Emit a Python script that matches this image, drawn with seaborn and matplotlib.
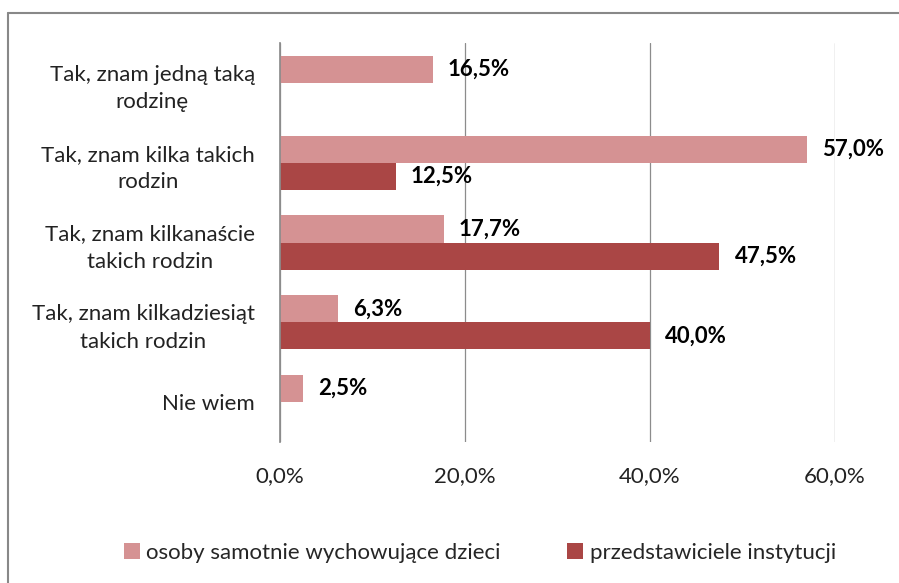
import matplotlib
matplotlib.use('Agg')
import matplotlib.pyplot as plt
from matplotlib.lines import Line2D
from matplotlib.ticker import FuncFormatter
import pandas as pd
import seaborn as sns

categories = [
    'Tak, znam jedną taką\nrodzinę',
    'Tak, znam kilka takich\nrodzin',
    'Tak, znam kilkanaście\ntakich rodzin',
    'Tak, znam kilkadziesiąt\ntakich rodzin',
    'Nie wiem',
]
series_names = ['osoby samotnie wychowujące dzieci', 'przedstawiciele instytucji']
osoby = [16.5, 57.0, 17.7, 6.3, 2.5]
instytucje = [None, 12.5, 47.5, 40.0, None]
colors = ['#D59293', '#AA4645']
x_ticks = [0, 20, 40, 60]

sns.set_theme(style='white')
plt.rcParams['font.family'] = ['Lato', 'DejaVu Sans']
plt.rcParams['font.size'] = 16


def pct(v, pos=None):
    return f'{v:.1f}%'.replace('.', ',')


def main():
    rows = []
    for cat, a, b in zip(categories, osoby, instytucje):
        if a is not None:
            rows.append((cat, series_names[0], a))
        if b is not None:
            rows.append((cat, series_names[1], b))
    df = pd.DataFrame(rows, columns=['kat', 'grupa', 'wartosc'])

    fig = plt.figure(figsize=(8.99, 5.83), dpi=100)
    ax = fig.add_axes([280 / 899, 1 - 442 / 583, 555 / 899, 399 / 583])
    sns.barplot(data=df, y='kat', x='wartosc', hue='grupa', order=categories,
                hue_order=series_names, palette=colors, width=0.68,
                orient='h', saturation=1, linewidth=0, ax=ax)

    for cont in ax.containers:
        vals = cont.datavalues
        ax.bar_label(cont, labels=[pct(v) for v in vals], padding=11,
                     fontweight='bold', fontsize=16, color='black')

    ax.set_xlim(0, 60)
    ax.set_xticks(x_ticks)
    ax.xaxis.set_major_formatter(FuncFormatter(pct))
    ax.grid(which='major', axis='x', color='#8c8c8c', linewidth=0.9)
    ax.set_axisbelow(True)
    for s in ['top', 'right', 'bottom']:
        ax.spines[s].set_visible(False)
    ax.spines['left'].set_color('#8c8c8c')
    ax.tick_params(axis='x', length=0, pad=17, labelsize=16, colors='#222222')
    ax.tick_params(axis='y', length=0, pad=18, labelsize=16, colors='#222222')
    for lbl in ax.get_yticklabels():
        lbl.set_multialignment('center')
        lbl.set_linespacing(1.45)
    ax.set_xlabel('')
    ax.set_ylabel('')

    ax.legend(loc='center', bbox_to_anchor=(480 / 899, 1 - 553 / 583),
              bbox_transform=fig.transFigure, ncol=2, frameon=False,
              handlelength=0.7, handleheight=0.7, handletextpad=0.3,
              columnspacing=3.0, fontsize=16)

    # ramka wykresu (widoczna tylko gora i lewa strona)
    fig.add_artist(Line2D([8 / 899, 1], [1 - 13 / 583] * 2, color='#888888', lw=1.5,
                          transform=fig.transFigure))
    fig.add_artist(Line2D([8 / 899] * 2, [0, 1 - 13 / 583], color='#888888', lw=1.5,
                          transform=fig.transFigure))

    fig.savefig('out.png', dpi=100)


if __name__ == '__main__':
    main()
